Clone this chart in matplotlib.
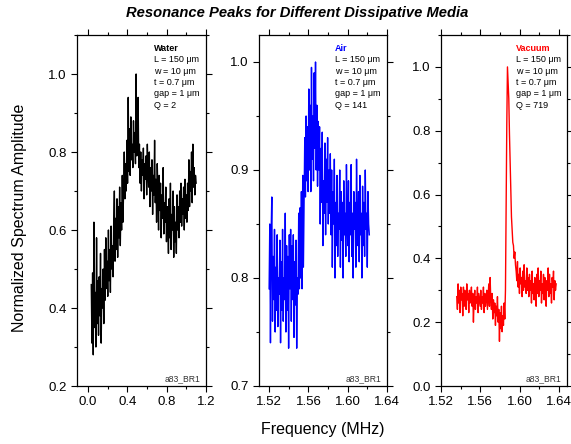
import matplotlib
matplotlib.use("Agg")
import matplotlib.pyplot as plt
from matplotlib.ticker import MultipleLocator, FormatStrFormatter
import numpy as np

plt.rcParams['font.family'] = ['Liberation Sans', 'DejaVu Sans']

# --- data ---
water_f_range = (0.035, 1.10)
water_amp = [
    0.46, 0.31, 0.49, 0.28, 0.62, 0.35,
    0.44, 0.30, 0.58, 0.36, 0.47, 0.33, 0.48, 0.38, 0.54, 0.31, 0.45, 0.40, 0.50, 0.36,
    0.55, 0.42, 0.58, 0.45, 0.52, 0.43, 0.60, 0.47, 0.55, 0.44, 0.61, 0.50, 0.56, 0.48, 0.62,
    0.70, 0.52, 0.63, 0.55, 0.68, 0.53, 0.66, 0.58, 0.71, 0.56, 0.67, 0.60, 0.74, 0.62, 0.70,
    0.80, 0.68, 0.77, 0.70, 0.83, 0.72, 0.94, 0.75,
    0.86, 0.74, 0.89, 0.78, 0.82, 0.76, 0.88, 0.80, 0.85, 0.77, 1.00, 0.79, 0.84,
    0.94, 0.76, 0.82, 0.72, 0.80, 0.70, 0.78, 0.74, 0.81, 0.68, 0.77, 0.73, 0.79, 0.69, 0.82,
    0.75, 0.71, 0.80, 0.66, 0.76, 0.70, 0.78, 0.64, 0.74, 0.69, 0.83, 0.67, 0.73, 0.62, 0.77,
    0.70, 0.60, 0.74, 0.65, 0.72, 0.58, 0.69, 0.63, 0.76, 0.59, 0.67, 0.62, 0.71, 0.57, 0.66,
    0.63, 0.54, 0.68, 0.58, 0.72, 0.55, 0.64, 0.60, 0.70, 0.53, 0.66, 0.57, 0.62, 0.54, 0.69,
    0.60, 0.66, 0.58, 0.70, 0.62, 0.72, 0.61, 0.68, 0.64, 0.71, 0.60, 0.73, 0.63, 0.69, 0.62,
    0.72, 0.65, 0.78, 0.66, 0.75, 0.70, 0.80, 0.67, 0.82, 0.71, 0.76, 0.69, 0.74, 0.72,
]

air_f_range = (1.520, 1.622)
air_amp = [
    0.79, 0.85, 0.74, 0.84, 0.875, 0.76, 0.82, 0.78, 0.845, 0.75,
    0.81, 0.77, 0.84, 0.755, 0.80, 0.785, 0.835, 0.74, 0.815, 0.77,
    0.845, 0.76, 0.80, 0.78, 0.86, 0.75, 0.83, 0.77, 0.82, 0.735, 0.84,
    0.79, 0.845, 0.76, 0.83, 0.78, 0.84, 0.745, 0.815, 0.775, 0.835, 0.735, 0.80, 0.785, 0.86, 0.79,
    0.865, 0.80, 0.88, 0.79, 0.895, 0.81, 0.87,
    0.93, 0.875, 0.95, 0.89, 0.94, 0.88,
    0.975, 0.90, 0.96, 0.88, 0.995, 0.91, 0.95, 0.89, 0.99, 0.92, 1.00, 0.90, 0.96, 0.885, 0.945,
    0.90, 0.94, 0.85, 0.92, 0.87, 0.935, 0.83, 0.89, 0.86, 0.925, 0.84, 0.91, 0.87, 0.93, 0.85,
    0.90, 0.86, 0.915,
    0.84, 0.90, 0.81, 0.88, 0.85, 0.91, 0.80, 0.87, 0.83, 0.895, 0.82, 0.86, 0.845, 0.90, 0.81,
    0.88, 0.835, 0.87, 0.80, 0.89, 0.84, 0.86, 0.82, 0.905, 0.85,
    0.83, 0.89, 0.815, 0.87, 0.84, 0.905, 0.82, 0.86, 0.80, 0.88, 0.845, 0.87, 0.81, 0.91, 0.85,
    0.83, 0.88, 0.815, 0.895, 0.84, 0.86, 0.80, 0.885, 0.83, 0.87, 0.82, 0.90, 0.845, 0.86, 0.81,
    0.88, 0.85, 0.84,
]

vac_f_range = (1.536, 1.637)
vac_amp = [
    0.28, 0.24, 0.32, 0.26, 0.30, 0.23, 0.31, 0.27, 0.29, 0.22,
    0.31, 0.25, 0.30, 0.28, 0.24, 0.32, 0.27, 0.29, 0.23, 0.30,
    0.26, 0.28, 0.31, 0.25, 0.29, 0.20, 0.27, 0.30, 0.24, 0.28,
    0.26, 0.31, 0.23, 0.29, 0.27, 0.25, 0.30, 0.24, 0.28, 0.26,
    0.31, 0.23, 0.29, 0.25, 0.27, 0.30, 0.24, 0.28, 0.32, 0.25, 0.34, 0.27,
    0.24, 0.29, 0.21, 0.27, 0.23, 0.26, 0.19, 0.25, 0.22, 0.28,
    0.20, 0.24, 0.14, 0.23, 0.18, 0.25, 0.17, 0.22, 0.19, 0.26, 0.21,
    0.30, 0.55, 0.82,
    1.00, 0.95, 0.90, 0.79, 0.70, 0.60,
    0.53, 0.49, 0.45, 0.44, 0.40, 0.42, 0.38,
    0.36, 0.33, 0.39, 0.31, 0.35, 0.29, 0.37, 0.32, 0.34, 0.28,
    0.36, 0.30, 0.38, 0.31, 0.33, 0.29, 0.37, 0.30, 0.34,
    0.28, 0.35, 0.30, 0.33, 0.26, 0.36, 0.29, 0.32, 0.27, 0.34,
    0.31, 0.25, 0.35, 0.29, 0.37, 0.28, 0.33, 0.30, 0.36, 0.26,
    0.32, 0.29, 0.35, 0.27, 0.34, 0.31, 0.25, 0.33, 0.30, 0.37,
    0.28, 0.35, 0.29, 0.32, 0.26, 0.34, 0.31, 0.36, 0.27, 0.33,
    0.30, 0.32,
]

medium_names = ['Water', 'Air', 'Vacuum']
q_values = [2, 141, 719]
line_colors = ['black', 'blue', 'red']
sample_label = 'a83_BR1'
params_text = 'L = 150 \u03bcm\nw = 10 \u03bcm\nt = 0.7 \u03bcm\ngap = 1 \u03bcm\nQ = {}'

panels = [
    dict(f=water_f_range, a=water_amp, xlim=(-0.11, 1.2), ylim=(0.2, 1.1),
         xmaj=0.4, xmin=0.2, ymaj=0.2, ymin=0.1, xfmt='%.1f', box=(77, 206)),
    dict(f=air_f_range, a=air_amp, xlim=(1.5097, 1.64), ylim=(0.7, 1.025),
         xmaj=0.04, xmin=0.02, ymaj=0.1, ymin=0.05, xfmt='%.2f', box=(259, 387)),
    dict(f=vac_f_range, a=vac_amp, xlim=(1.52, 1.648), ylim=(0.0, 1.1),
         xmaj=0.04, xmin=0.02, ymaj=0.2, ymin=0.1, xfmt='%.2f', box=(441, 567)),
]

W, H = 571, 444
fig = plt.figure(figsize=(W / 100, H / 100), dpi=100)
top_px, bot_px = 35, 386

for i, p in enumerate(panels):
    x0, x1 = p['box']
    ax = fig.add_axes([x0 / W, (H - bot_px) / H, (x1 - x0) / W, (bot_px - top_px) / H])
    amp = np.array(p['a'])
    freq = np.linspace(p['f'][0], p['f'][1], len(amp))
    ax.plot(freq, amp, color=line_colors[i], lw=1.0)
    ax.set_xlim(*p['xlim'])
    ax.set_ylim(*p['ylim'])
    ax.xaxis.set_major_locator(MultipleLocator(p['xmaj']))
    ax.xaxis.set_minor_locator(MultipleLocator(p['xmin']))
    ax.yaxis.set_major_locator(MultipleLocator(p['ymaj']))
    ax.yaxis.set_minor_locator(MultipleLocator(p['ymin']))
    ax.xaxis.set_major_formatter(FormatStrFormatter(p['xfmt']))
    ax.yaxis.set_major_formatter(FormatStrFormatter('%.1f'))
    ax.tick_params(which='both', direction='out', top=True, right=True,
                   labelsize=9.5, width=0.8)
    ax.tick_params(which='major', length=4)
    ax.tick_params(which='minor', length=2.5)
    for s in ax.spines.values():
        s.set_linewidth(0.9)

    ax.text(0.595, 0.962, medium_names[i], transform=ax.transAxes, fontsize=6.5,
            fontweight='bold', color=line_colors[i], va='center', ha='left')
    ax.text(0.595, 0.942, params_text.format(q_values[i]), transform=ax.transAxes,
            fontsize=6.5, va='top', ha='left', linespacing=1.33)
    ax.text(0.955, 0.022, sample_label, transform=ax.transAxes, fontsize=6.2,
            color='#333333', ha='right', va='center')

fig.text(0.52, 0.971, 'Resonance Peaks for Different Dissipative Media',
         ha='center', va='center', fontsize=10.6, fontweight='bold', fontstyle='italic')
fig.text(0.565, 0.032, 'Frequency (MHz)', ha='center', va='center', fontsize=11.5)
fig.text(0.034, 0.51, 'Normalized Spectrum Amplitude', ha='center', va='center',
         rotation=90, fontsize=11.5)

fig.savefig('out.png', dpi=100)
